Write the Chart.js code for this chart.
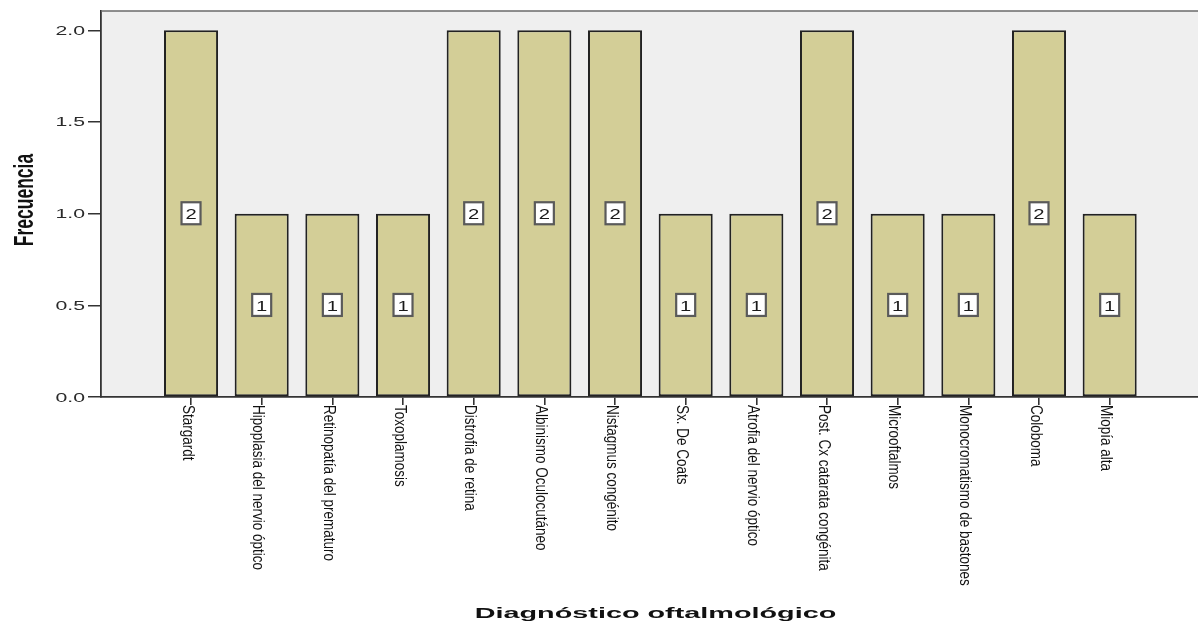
<!DOCTYPE html>
<html lang="es">
<head>
<meta charset="utf-8">
<title>Diagnóstico oftalmológico</title>
<script src="https://cdn.jsdelivr.net/npm/chart.js@4/dist/chart.umd.min.js"></script>
<style>
  html, body { margin: 0; padding: 0; background: #ffffff; }
  #wrap { width: 1198px; height: 621px; position: relative; }
</style>
</head>
<body>
<div id="wrap"><canvas id="chart" width="1198" height="621"></canvas></div>
<script>
// Diagnoses and their frequencies
const CATEGORIES = [
  'Stargardt',
  'Hipoplasia del nervio óptico',
  'Retinopatía del prematuro',
  'Toxoplamosis',
  'Distrofia de retina',
  'Albinismo Oculocutáneo',
  'Nistagmus congénito',
  'Sx. De Coats',
  'Atrofia del nervio óptico',
  'Post. Cx catarata congénita',
  'Microoftalmos',
  'Monocromatismo de bastones',
  'Coloboma',
  'Miopía alta'
];
const FREQUENCIES = [2, 1, 1, 1, 2, 2, 2, 1, 1, 2, 1, 1, 2, 1];
const Y_TICKS = [0, 0.5, 1.0, 1.5, 2.0];
const Y_TICK_LABELS = ['0.0', '0.5', '1.0', '1.5', '2.0'];
const X_TITLE = 'Diagnóstico oftalmológico';
const Y_TITLE = 'Frecuencia';

const FONT = '"Liberation Sans", Arial, sans-serif';
const INK = '#1e1e1e';

// Text helper: draws text with a rotation and an anisotropic scale
function drawText(ctx, text, x, y, opts) {
  ctx.save();
  ctx.translate(x, y);
  if (opts.rot) ctx.rotate(opts.rot);
  ctx.scale(opts.sx || 1, opts.sy || 1);
  ctx.font = opts.font;
  ctx.fillStyle = opts.color || INK;
  ctx.textAlign = opts.align || 'left';
  ctx.textBaseline = opts.baseline || 'alphabetic';
  ctx.fillText(text, 0, 0);
  ctx.restore();
}

const frame = {
  id: 'frame',
  beforeDraw(chart) {
    const { ctx, chartArea: a } = chart;
    ctx.save();
    ctx.fillStyle = '#efefef';
    ctx.fillRect(a.left, a.top, a.right - a.left, a.bottom - a.top);
    ctx.restore();
  },
  afterDraw(chart) {
    const { ctx, chartArea: a } = chart;
    // top frame line
    ctx.save();
    ctx.strokeStyle = '#6a6a6a';
    ctx.lineWidth = 1.5;
    ctx.beginPath();
    ctx.moveTo(a.left, a.top);
    ctx.lineTo(a.right, a.top);
    ctx.stroke();
    ctx.restore();

    const xs = chart.scales.x, ys = chart.scales.y;
    // y tick labels
    ys.ticks.forEach((t, i) => {
      const py = ys.getPixelForValue(t.value);
      drawText(ctx, Y_TICK_LABELS[i], a.left - 16, py + 4.5, {
        font: '12.5px ' + FONT, sx: 1.7, align: 'right', color: '#2a2a2a'
      });
    });
    // x tick labels, read top to bottom
    xs.ticks.forEach((t, i) => {
      const px = xs.getPixelForValue(t.value);
      drawText(ctx, CATEGORIES[i], px - 8.4, a.bottom + 8, {
        font: '13.5px ' + FONT, rot: Math.PI / 2, sy: 1.28, align: 'left', color: '#111'
      });
    });
    // axis titles
    drawText(ctx, Y_TITLE, 33, (a.top + a.bottom) / 2 - 4, {
      font: 'bold 17.5px ' + FONT, rot: -Math.PI / 2, sy: 1.58, align: 'center', color: '#111'
    });
    drawText(ctx, X_TITLE, (a.left + a.right) / 2 + 6, 618, {
      font: 'bold 15px ' + FONT, sx: 1.92, align: 'center', color: '#111'
    });
  }
};

// value boxes in the middle of each bar
const valueBoxes = {
  id: 'valueBoxes',
  afterDatasetsDraw(chart) {
    const { ctx } = chart;
    const meta = chart.getDatasetMeta(0);
    meta.data.forEach((bar, i) => {
      const v = FREQUENCIES[i];
      const cx = bar.x;
      const cy = (bar.y + bar.base) / 2;
      const w = 19, h = 22;
      ctx.save();
      ctx.fillStyle = '#ffffff';
      ctx.fillRect(cx - w / 2, cy - h / 2, w, h);
      ctx.strokeStyle = '#5a5a5a';
      ctx.lineWidth = 2.2;
      ctx.strokeRect(cx - w / 2, cy - h / 2, w, h);
      ctx.restore();
      drawText(ctx, String(v), cx, cy + 5.6, {
        font: '15px ' + FONT, sx: 1.35, align: 'center', color: '#1a1a1a'
      });
    });
  }
};

new Chart(document.getElementById('chart'), {
  type: 'bar',
  data: {
    datasets: [{
      data: FREQUENCIES.map((v, i) => ({ x: i, y: v })),
      backgroundColor: '#d3ce97',
      borderColor: '#222',
      borderWidth: 2,
      borderSkipped: false,
      categoryPercentage: 1,
      barPercentage: 0.765
    }]
  },
  options: {
    responsive: false,
    animation: false,
    events: [],
    layout: { padding: { top: 11, left: 0, right: 0, bottom: 0 } },
    plugins: { legend: { display: false }, tooltip: { enabled: false } },
    scales: {
      x: {
        type: 'linear',
        min: -1.274,
        max: 14.25,
        offset: false,
        afterBuildTicks: s => { s.ticks = CATEGORIES.map((_, i) => ({ value: i })); },
        afterFit: s => { s.height = 224; },
        ticks: { display: false },
        grid: { offset: false, drawOnChartArea: false, drawTicks: true, tickLength: 8, color: '#333', lineWidth: 1.6 },
        border: { display: true, color: '#333', width: 1.8 }
      },
      y: {
        min: 0,
        max: 2.105,
        afterBuildTicks: s => { s.ticks = Y_TICKS.map(v => ({ value: v })); },
        afterFit: s => { s.width = 101; },
        ticks: { display: false },
        grid: { offset: false, drawOnChartArea: false, drawTicks: true, tickLength: 13, color: '#333', lineWidth: 1.5 },
        border: { display: true, color: '#333', width: 1.8 }
      }
    }
  },
  plugins: [frame, valueBoxes]
});
</script>
</body>
</html>
